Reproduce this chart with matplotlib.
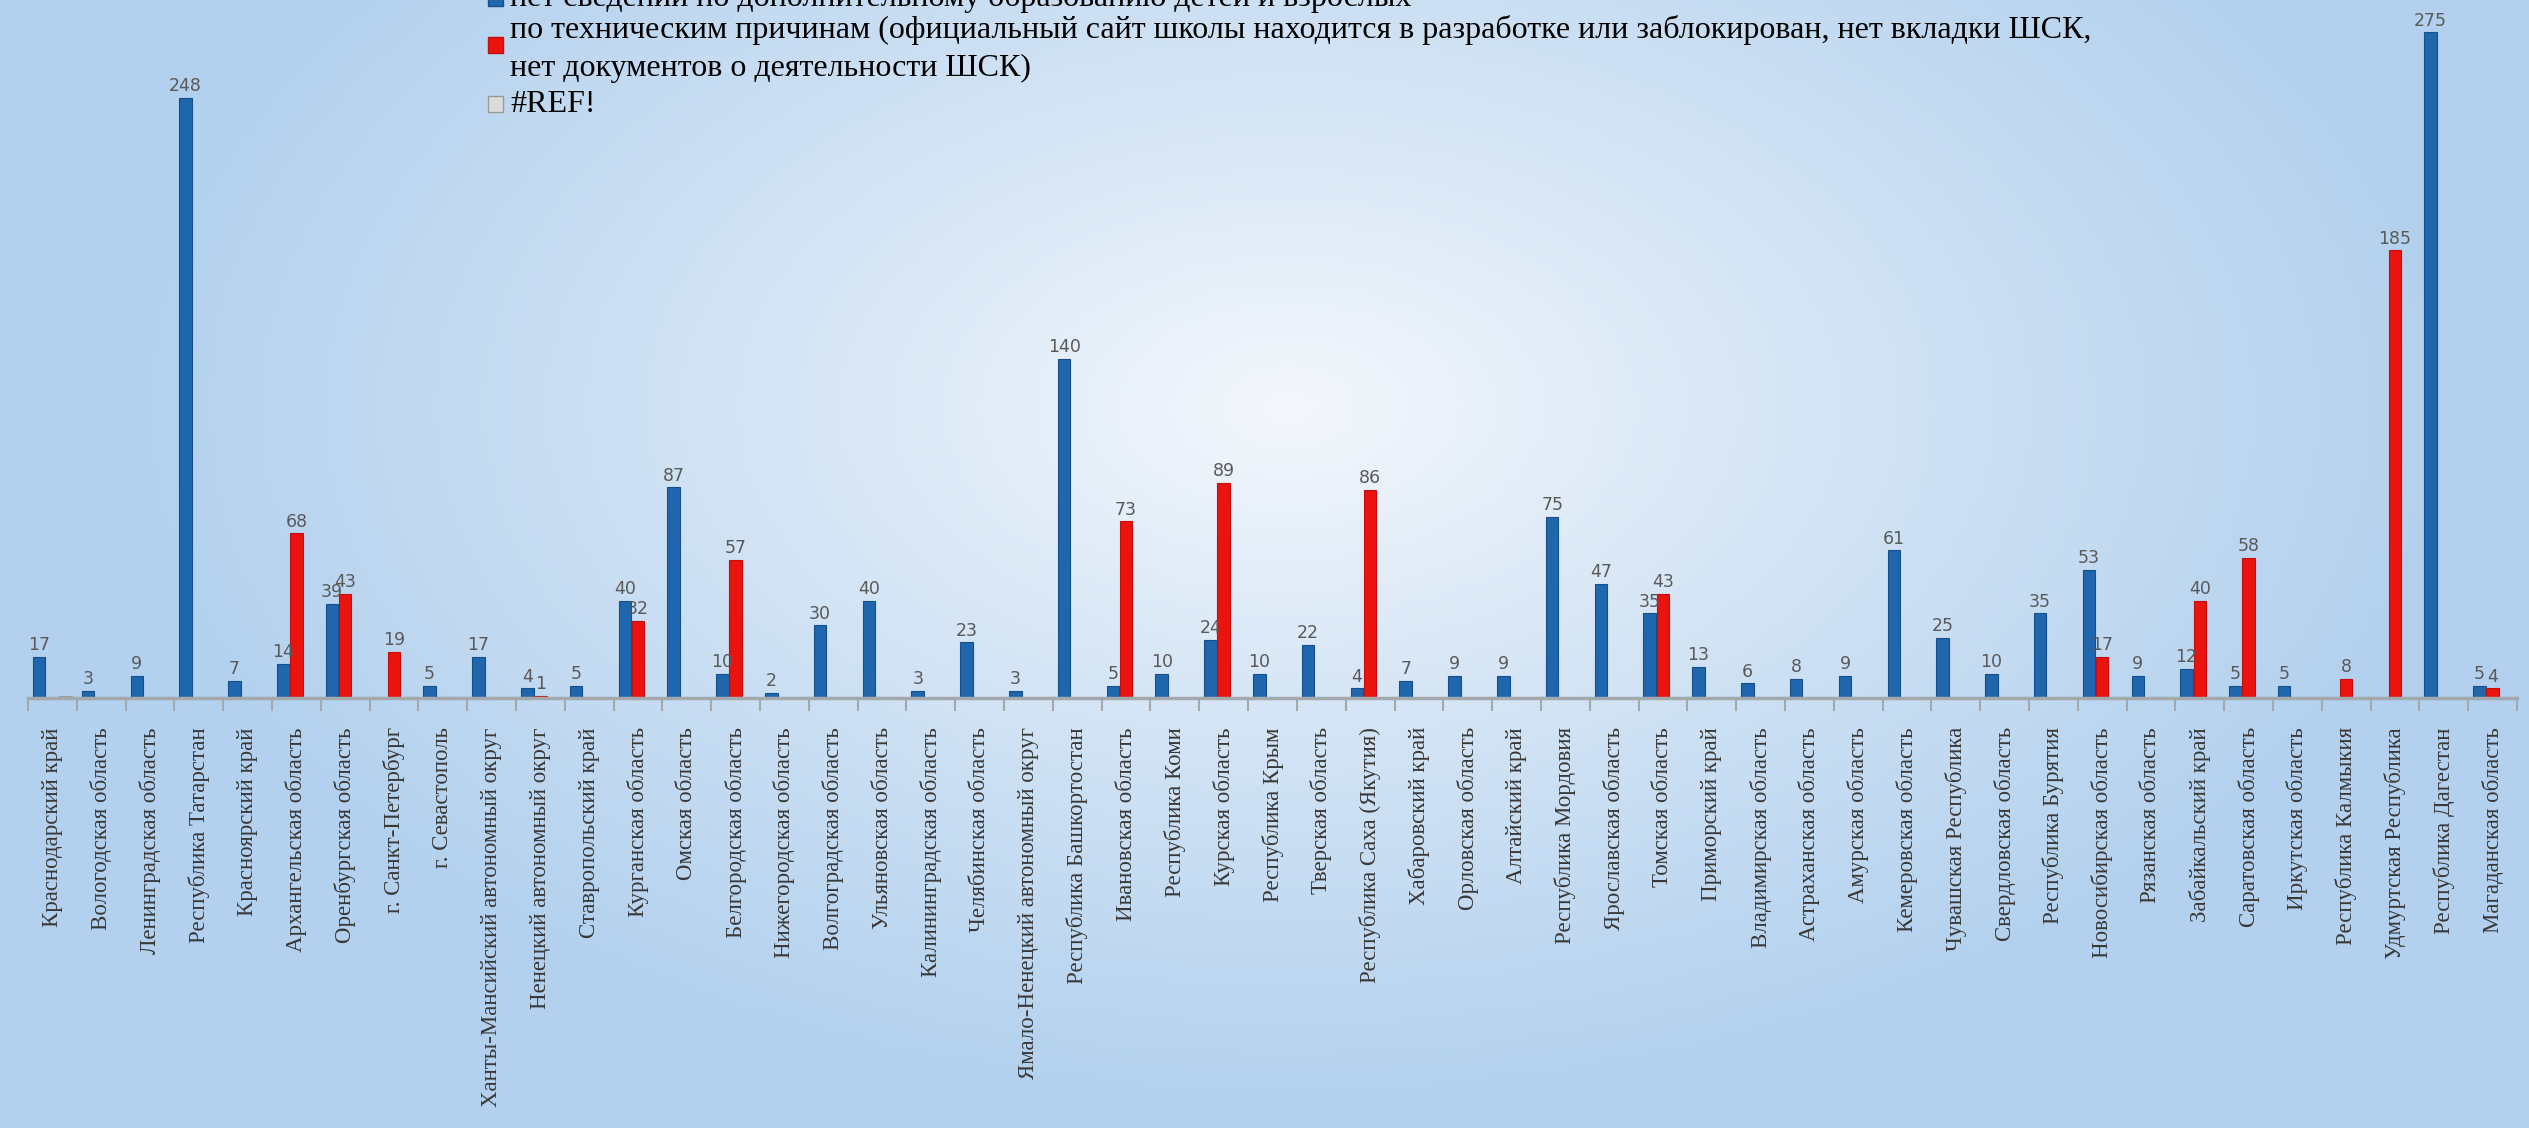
"""
Bar chart: schools by region, reasons why information about school sports clubs is missing.
"""

import numpy as np
import matplotlib.pyplot as plt
from matplotlib.patches import Rectangle

categories = [
    "Краснодарский край", "Вологодская область", "Ленинградская область",
    "Республика Татарстан", "Красноярский край", "Архангельская область",
    "Оренбургская область", "г. Санкт-Петербург", "г. Севастополь",
    "Ханты-Мансийский автономный округ", "Ненецкий автономный округ",
    "Ставропольский край", "Курганская область", "Омская область",
    "Белгородская область", "Нижегородская область", "Волгоградская область",
    "Ульяновская область", "Калининградская область", "Челябинская область",
    "Ямало-Ненецкий автономный округ", "Республика Башкортостан",
    "Ивановская область", "Республика Коми", "Курская область",
    "Республика Крым", "Тверская область", "Республика Саха (Якутия)",
    "Хабаровский край", "Орловская область", "Алтайский край",
    "Республика Мордовия", "Ярославская область", "Томская область",
    "Приморский край", "Владимирская область", "Астраханская область",
    "Амурская область", "Кемеровская область", "Чувашская Республика",
    "Свердловская область", "Республика Бурятия", "Новосибирская область",
    "Рязанская область", "Забайкальский край", "Саратовская область",
    "Иркутская область", "Республика Калмыкия", "Удмуртская Республика",
    "Республика Дагестан", "Магаданская область",
]

# blue series: no information on additional education
no_info = [17, 3, 9, 248, 7, 14, 39, 0, 5, 17,
           4, 5, 40, 87, 10, 2, 30, 40, 3, 23,
           3, 140, 5, 10, 24, 10, 22, 4, 7, 9,
           9, 75, 47, 35, 13, 6, 8, 9, 61, 25,
           10, 35, 53, 9, 12, 5, 5, 0, 0, 275,
           5]

# red series: technical reasons
tech_reasons = [0, 0, 0, 0, 0, 68, 43, 19, 0, 0,
                1, 0, 32, 0, 57, 0, 0, 0, 0, 0,
                0, 0, 73, 0, 89, 0, 0, 86, 0, 0,
                0, 0, 0, 43, 0, 0, 0, 0, 0, 0,
                0, 0, 17, 0, 40, 58, 0, 8, 185, 0,
                4]

# grey series: broken reference in the source sheet
ref_error = [1] + [0] * 50

legend_labels = [
    "нет сведений по дополнительному образованию детей и взрослых",
    "по техническим причинам (официальный сайт школы находится в разработке или заблокирован, нет вкладки ШСК,\n"
    "нет документов о деятельности ШСК)",
    "#REF!",
]

BLUE = "#1f66ad"
RED = "#ea130e"
GREY = "#dcdcdc"
W, H = 2529, 1128


def make_background(nx=506, ny=226):
    """Radial gradient: almost white in the middle, light blue at the edges"""
    xx, yy = np.meshgrid(np.linspace(0, 1, nx), np.linspace(0, 1, ny))
    r = np.sqrt(((xx - 0.51) / 0.46) ** 2 + ((yy - 0.36) / 0.62) ** 2)
    r = np.clip(r, 0, 1) ** 0.9
    inner = np.array([0xf5, 0xf8, 0xfc]) / 255
    outer = np.array([0xb3, 0xd1, 0xee]) / 255
    return inner + (outer - inner) * r[..., None]


def main():
    fig = plt.figure(figsize=(W / 100, H / 100), dpi=100)

    bg = fig.add_axes([0, 0, 1, 1], zorder=0)
    bg.imshow(make_background(), aspect="auto", extent=(0, 1, 0, 1), origin="upper")
    bg.axis("off")

    # plot area: baseline at y=698 px, 2.42 px per unit
    left, right, base = 28, 2517, 698
    ax = fig.add_axes([left / W, 1 - base / H, (right - left) / W, 300 * 2.42 / H], zorder=1)
    ax.patch.set_alpha(0)

    n = len(categories)
    x = np.arange(n)
    w = 0.27
    series = [(no_info, -w, BLUE, "#15508a"),
              (tech_reasons, 0, RED, "#c40d0d"),
              (ref_error, w, GREY, "#9a9a9a")]
    for values, off, color, edge in series:
        ax.bar(x + off, values, w * 0.95, color=color, edgecolor=edge, linewidth=0.8, zorder=2)

    # value labels (none for the grey series, none for zeros)
    for values, off, _, _ in series[:2]:
        for xi, v in zip(x, values):
            if v > 0:
                ax.annotate(str(v), (xi + off, v), xytext=(0, 2), textcoords="offset points",
                            ha="center", va="bottom", fontsize=12.5, color="#595959")

    ax.set_xlim(-0.5, n - 0.5)
    ax.set_ylim(0, 300)
    ax.set_yticks([])
    for side in ["left", "right", "top"]:
        ax.spines[side].set_visible(False)
    ax.spines["bottom"].set_color("#a3a8ad")
    ax.spines["bottom"].set_linewidth(2.5)

    ax.set_xticks(x)
    ax.set_xticklabels(categories, rotation=90, fontsize=16.5, color="#383838",
                       fontfamily="Liberation Serif")
    ax.tick_params(axis="x", which="major", length=0, pad=21)
    ax.set_xticks(np.arange(n + 1) - 0.5, minor=True)
    ax.tick_params(axis="x", which="minor", length=9, width=1.5, color="#a3a8ad")

    # legend drawn by hand, partly cut off by the top edge like the original
    legend_rows = [(BLUE, "#15508a", -2, [-2]),
                   (RED, "#c40d0d", 45, [30, 68]),
                   (GREY, "#9a9a9a", 104, [104])]
    text_x = 510
    for (color, edge, my, _), label in zip(legend_rows, legend_labels):
        fig.patches.append(Rectangle(((text_x - 22) / W, 1 - (my + 8) / H), 15 / W, 16 / H,
                                     transform=fig.transFigure, facecolor=color,
                                     edgecolor=edge, linewidth=1))
    for (_, _, _, ys), label in zip(legend_rows, legend_labels):
        for yy, line in zip(ys, label.split("\n")):
            fig.text(text_x / W, 1 - yy / H, line, ha="left", va="center", fontsize=23,
                     fontfamily="Liberation Serif", color="black")

    fig.savefig("out.png", dpi=100)


if __name__ == "__main__":
    main()
